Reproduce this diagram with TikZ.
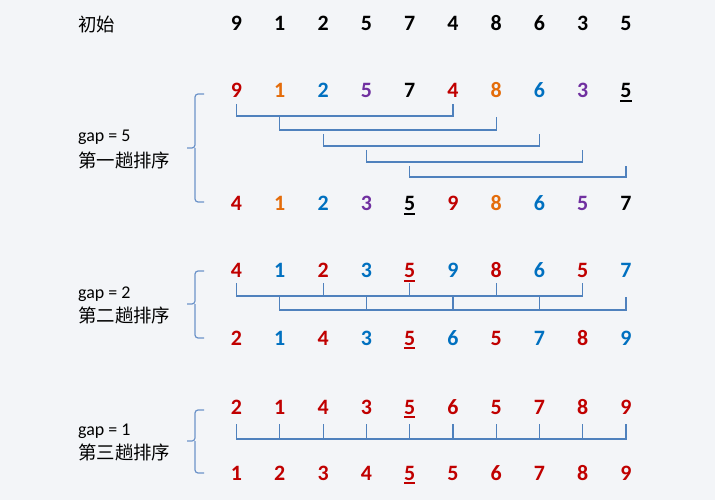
\documentclass[tikz,border=0pt]{standalone}
\usepackage{fontspec}
\setmainfont{Carlito}
\newfontfamily\cjk{Noto Sans CJK SC}
\newfontfamily\digfamily{Carlito}
\newcommand\digfont{\digfamily\bfseries\fontsize{22}{22}\selectfont}
\newcommand\gapfont{\fontsize{18}{20}\selectfont}
\newcommand\zhfont{\cjk\fontsize{18.5}{20}\selectfont}
\newcommand\undl[1]{\setbox0\hbox{#1}\rlap{\rule[-4bp]{\wd0}{1.8bp}}\box0}
\definecolor{bgcol}{HTML}{F3F5F8}
\definecolor{nred}{HTML}{C00000}
\definecolor{norange}{HTML}{E46C0A}
\definecolor{nblue}{HTML}{0070C0}
\definecolor{npurple}{HTML}{7030A0}
\definecolor{linkblue}{HTML}{4F81BD}
\definecolor{brkblue}{HTML}{6C93C9}
\begin{document}
\begin{tikzpicture}[x=1bp,y=-1bp,
    num/.style={font=\digfont, text height=14bp, text depth=0bp, inner sep=0pt},
    zh/.style={font=\zhfont, anchor=west, inner sep=0pt},
    gaplab/.style={font=\gapfont, anchor=base west, inner sep=0pt},
    link/.style={draw=linkblue, line width=1.2bp},
    brk/.style={draw=brkblue, line width=1.2bp, rounded corners=3bp}]
  \fill[bgcol] (0,0) rectangle (715,500);
  \useasboundingbox (0,0) rectangle (715,500);
  % initial row
  \path
    (78,24) node[zh] (start) {初始}
    (236.5,24) node[num] (i0) {9}
    (279.8,24) node[num] (i1) {1}
    (323.1,24) node[num] (i2) {2}
    (366.3,24) node[num] (i3) {5}
    (409.6,24) node[num] (i4) {7}
    (452.9,24) node[num] (i5) {4}
    (496.2,24) node[num] (i6) {8}
    (539.5,24) node[num] (i7) {6}
    (582.7,24) node[num] (i8) {3}
    (626.0,24) node[num] (i9) {5};
  % gap = 5
  \path
    (78,142) node[gaplab] (gap1) {gap = 5}
    (78,160) node[zh] (pass1) {第一趟排序}
    (236.5,91) node[num,nred] (a0) {9}
    (279.8,91) node[num,norange] (a1) {1}
    (323.1,91) node[num,nblue] (a2) {2}
    (366.3,91) node[num,npurple] (a3) {5}
    (409.6,91) node[num] (a4) {7}
    (452.9,91) node[num,nred] (a5) {4}
    (496.2,91) node[num,norange] (a6) {8}
    (539.5,91) node[num,nblue] (a7) {6}
    (582.7,91) node[num,npurple] (a8) {3}
    (626.0,91) node[num] (a9) {\undl{5}}
    (236.5,204) node[num,nred] (b0) {4}
    (279.8,204) node[num,norange] (b1) {1}
    (323.1,204) node[num,nblue] (b2) {2}
    (366.3,204) node[num,npurple] (b3) {3}
    (409.6,204) node[num] (b4) {\undl{5}}
    (452.9,204) node[num,nred] (b5) {9}
    (496.2,204) node[num,norange] (b6) {8}
    (539.5,204) node[num,nblue] (b7) {6}
    (582.7,204) node[num,npurple] (b8) {5}
    (626.0,204) node[num] (b9) {7};
  % gap = 2
  \path
    (78,298) node[gaplab] (gap2) {gap = 2}
    (78,315) node[zh] (pass2) {第二趟排序}
    (236.5,271) node[num,nred] (c0) {4}
    (279.8,271) node[num,nblue] (c1) {1}
    (323.1,271) node[num,nred] (c2) {2}
    (366.3,271) node[num,nblue] (c3) {3}
    (409.6,271) node[num,nred] (c4) {\undl{5}}
    (452.9,271) node[num,nblue] (c5) {9}
    (496.2,271) node[num,nred] (c6) {8}
    (539.5,271) node[num,nblue] (c7) {6}
    (582.7,271) node[num,nred] (c8) {5}
    (626.0,271) node[num,nblue] (c9) {7}
    (236.5,338) node[num,nred] (d0) {2}
    (279.8,338) node[num,nblue] (d1) {1}
    (323.1,338) node[num,nred] (d2) {4}
    (366.3,338) node[num,nblue] (d3) {3}
    (409.6,338) node[num,nred] (d4) {\undl{5}}
    (452.9,338) node[num,nblue] (d5) {6}
    (496.2,338) node[num,nred] (d6) {5}
    (539.5,338) node[num,nblue] (d7) {7}
    (582.7,338) node[num,nred] (d8) {8}
    (626.0,338) node[num,nblue] (d9) {9};
  % gap = 1
  \path
    (78,435) node[gaplab] (gap3) {gap = 1}
    (78,452) node[zh] (pass3) {第三趟排序}
    (236.5,407) node[num,nred] (e0) {2}
    (279.8,407) node[num,nred] (e1) {1}
    (323.1,407) node[num,nred] (e2) {4}
    (366.3,407) node[num,nred] (e3) {3}
    (409.6,407) node[num,nred] (e4) {\undl{5}}
    (452.9,407) node[num,nred] (e5) {6}
    (496.2,407) node[num,nred] (e6) {5}
    (539.5,407) node[num,nred] (e7) {7}
    (582.7,407) node[num,nred] (e8) {8}
    (626.0,407) node[num,nred] (e9) {9}
    (236.5,473) node[num,nred] (f0) {1}
    (279.8,473) node[num,nred] (f1) {2}
    (323.1,473) node[num,nred] (f2) {3}
    (366.3,473) node[num,nred] (f3) {4}
    (409.6,473) node[num,nred] (f4) {\undl{5}}
    (452.9,473) node[num,nred] (f5) {5}
    (496.2,473) node[num,nred] (f6) {6}
    (539.5,473) node[num,nred] (f7) {7}
    (582.7,473) node[num,nred] (f8) {8}
    (626.0,473) node[num,nred] (f9) {9};
  % levels of the links
  \coordinate (t1) at (0,104);  \coordinate (l1) at (0,116);
  \coordinate (t2) at (0,117);  \coordinate (l2) at (0,130);
  \coordinate (t3) at (0,134);  \coordinate (l3) at (0,146);
  \coordinate (t4) at (0,150);  \coordinate (l4) at (0,162);
  \coordinate (t5) at (0,166);  \coordinate (l5) at (0,177);
  \coordinate (ta) at (0,283);  \coordinate (la) at (0,296);
  \coordinate (tb) at (0,297);  \coordinate (lb) at (0,310);
  \coordinate (tc) at (0,424);  \coordinate (lc) at (0,439);
  \begin{scope}[link]
    \draw (a0 |- t1) |- (a5 |- l1) -- (a5 |- t1);
    \draw (a1 |- t2) |- (a6 |- l2) -- (a6 |- t2);
    \draw (a2 |- t3) |- (a7 |- l3) -- (a7 |- t3);
    \draw (a3 |- t4) |- (a8 |- l4) -- (a8 |- t4);
    \draw (a4 |- t5) |- (a9 |- l5) -- (a9 |- t5);
    \draw (c0 |- ta) |- (c8 |- la) -- (c8 |- ta);
    \draw (c2 |- ta) -- (c2 |- la);
    \draw (c4 |- ta) -- (c4 |- la);
    \draw (c6 |- ta) -- (c6 |- la);
    \draw (c1 |- tb) |- (c9 |- lb) -- (c9 |- tb);
    \draw (c3 |- tb) -- (c3 |- lb);
    \draw (c5 |- tb) -- (c5 |- lb);
    \draw (c7 |- tb) -- (c7 |- lb);
    \draw (e0 |- tc) |- (e9 |- lc) -- (e9 |- tc);
    \draw (e1 |- tc) -- (e1 |- lc);
    \draw (e2 |- tc) -- (e2 |- lc);
    \draw (e3 |- tc) -- (e3 |- lc);
    \draw (e4 |- tc) -- (e4 |- lc);
    \draw (e5 |- tc) -- (e5 |- lc);
    \draw (e6 |- tc) -- (e6 |- lc);
    \draw (e7 |- tc) -- (e7 |- lc);
    \draw (e8 |- tc) -- (e8 |- lc);
  \end{scope}
  % brackets
  \begin{scope}[brk]
    \draw (204,94) -- (195,94) -- (195,148) -- (187,148);
    \draw (195,148) -- (195,202) -- (204,202);
    \draw (204,271) -- (195,271) -- (195,304) -- (187,304);
    \draw (195,304) -- (195,338) -- (204,338);
    \draw (204,410) -- (195,410) -- (195,441) -- (187,441);
    \draw (195,441) -- (195,473) -- (204,473);
  \end{scope}
\end{tikzpicture}
\end{document}
